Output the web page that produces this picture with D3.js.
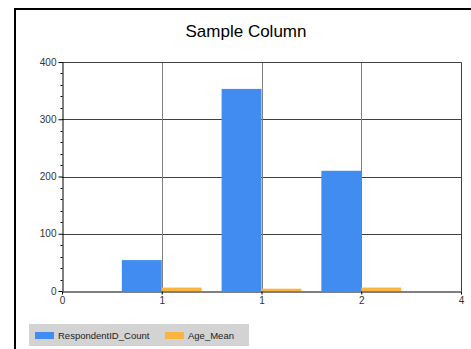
<!DOCTYPE html>
<html>
<head>
<meta charset="utf-8">
<script src="https://cdn.jsdelivr.net/npm/d3@7"></script>
<style>
  body { margin: 0; background: #fff; }
  svg { display: block; font-family: "Liberation Sans", Arial, sans-serif; }
</style>
</head>
<body>
<div id="chart"></div>
<script>
var width = 471, height = 349;

// data
var xTicks = [0, 1, 2, 3, 4];
var xTickLabels = ["0", "1", "1", "2", "4"];
var categoryPos = [1, 2, 3];
var countValues = [54, 353, 210];
var meanValues = [6, 4, 6];
var yTicks = [0, 100, 200, 300, 400];
var seriesNames = ["RespondentID_Count", "Age_Mean"];
var seriesColors = ["#418CF0", "#FCB441"];

var svg = d3.select("#chart").append("svg")
    .attr("width", width)
    .attr("height", height);

// outer frame (only top and left edge show)
svg.append("rect")
    .attr("x", 15).attr("y", 9)
    .attr("width", 480).attr("height", 400)
    .style("fill", "none").style("stroke", "#000").style("stroke-width", 2);

svg.append("text")
    .attr("x", 246).attr("y", 37)
    .attr("text-anchor", "middle")
    .style("font-size", "17px").style("fill", "#000")
    .text("Sample Column");

var plotL = 62, plotR = 461, plotT = 62, plotB = 291;
var x = d3.scaleLinear().domain([0, 4]).range([plotL, plotR]);
var y = d3.scaleLinear().domain([0, 400]).range([plotB, plotT]);
var barW = 0.4;

// grid
svg.append("g").selectAll("line")
    .data(yTicks.slice(1, -1))
    .enter().append("line")
    .attr("x1", plotL).attr("x2", plotR)
    .attr("y1", function(d) { return Math.round(y(d)) + 0.5; })
    .attr("y2", function(d) { return Math.round(y(d)) + 0.5; })
    .style("stroke", "#404040");
svg.append("g").selectAll("line")
    .data(xTicks.slice(1, -1))
    .enter().append("line")
    .attr("y1", plotT).attr("y2", plotB)
    .attr("x1", function(d) { return Math.round(x(d)) + 0.5; })
    .attr("x2", function(d) { return Math.round(x(d)) + 0.5; })
    .style("stroke", "#808080");

// top/right frame of plot
svg.append("path")
    .attr("d", "M" + plotL + "," + (plotT + 0.5) + "H" + (plotR + 0.5) + "V" + plotB)
    .style("fill", "none").style("stroke", "#404040");

// bars
svg.append("g").selectAll("rect")
    .data(categoryPos)
    .enter().append("rect")
    .attr("x", function(d) { return x(d - barW); })
    .attr("width", function(d) { return x(d) - x(d - barW); })
    .attr("y", function(d, i) { return y(countValues[i]); })
    .attr("height", function(d, i) { return y(0) - y(countValues[i]); })
    .style("fill", seriesColors[0]);
svg.append("g").selectAll("rect")
    .data(categoryPos)
    .enter().append("rect")
    .attr("x", function(d) { return x(d); })
    .attr("width", function(d) { return x(d + barW) - x(d); })
    .attr("y", function(d, i) { return y(meanValues[i]); })
    .attr("height", function(d, i) { return y(0) - y(meanValues[i]); })
    .style("fill", seriesColors[1]);

// axes
var yAxis = svg.append("g")
    .attr("transform", "translate(" + (plotL + 0.5) + ",0)")
    .call(d3.axisLeft(y).tickValues(yTicks).tickSize(4).tickPadding(2).tickSizeOuter(0));
yAxis.append("g").selectAll("line")
    .data(d3.range(0, 401, 20).filter(function(d) { return d % 100 != 0; }))
    .enter().append("line")
    .attr("x1", -2).attr("x2", 0)
    .attr("y1", function(d) { return Math.round(y(d)) + 0.5; })
    .attr("y2", function(d) { return Math.round(y(d)) + 0.5; })
    .style("stroke", "#000");

var xAxis = svg.append("g")
    .attr("transform", "translate(0," + (plotB + 0.5) + ")")
    .call(d3.axisBottom(x).tickValues(xTicks)
        .tickFormat(function(d, i) { return xTickLabels[i]; })
        .tickSize(3).tickPadding(2).tickSizeOuter(0));

[yAxis, xAxis].forEach(function(a) {
    a.select(".domain").style("stroke", "#000");
    a.selectAll(".tick line").style("stroke", "#000");
    a.selectAll("text").style("font-size", "10px").style("fill", "#333")
        .style("font-family", "'Liberation Sans', Arial, sans-serif");
});

// legend
var legend = svg.append("g");
legend.append("rect")
    .attr("x", 29).attr("y", 324).attr("width", 220).attr("height", 22)
    .style("fill", "#d3d3d3");
var legendX = [35, 165];
seriesNames.forEach(function(name, i) {
    legend.append("rect")
        .attr("x", legendX[i]).attr("y", 332)
        .attr("width", 19).attr("height", 7)
        .style("fill", seriesColors[i]);
    legend.append("text")
        .attr("x", legendX[i] + 23).attr("y", 339)
        .style("font-size", "9.5px").style("fill", "#222")
        .text(name);
});
</script>
</body>
</html>
